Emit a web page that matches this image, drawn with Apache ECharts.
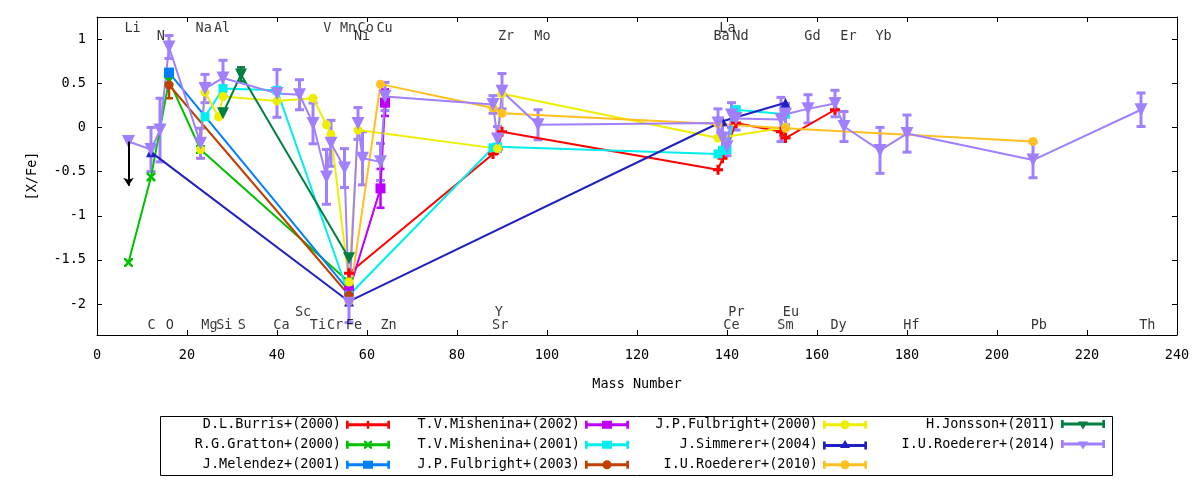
<!DOCTYPE html>
<html><head><meta charset="utf-8">
<script src="https://cdn.jsdelivr.net/npm/echarts@6/dist/echarts.min.js"></script>
<style>html,body{margin:0;padding:0;background:#fff}#c{width:1200px;height:480px}</style>
</head><body><div id="c"></div>
<script>
// ---------------- data ----------------
const seriesNames = ['D.L.Burris+(2000)','R.G.Gratton+(2000)','J.Melendez+(2001)','T.V.Mishenina+(2002)','T.V.Mishenina+(2001)','J.P.Fulbright+(2003)','J.P.Fulbright+(2000)','J.Simmerer+(2004)','I.U.Roederer+(2010)','H.Jonsson+(2011)','I.U.Roederer+(2014)'];
// each point: [mass number, [X/Fe], error]
const burris      = [[56,-1.65,0],[88,-0.30,0],[89,-0.25,0],[90,-0.05,0],[138,-0.48,0],[139,-0.35,0],[142,0.05,0],[152,-0.05,0],[153,-0.12,0],[164,0.20,0]];
const gratton     = [[7,-1.53,0],[12,-0.56,0],[16,0.53,0],[23,-0.25,0],[56,-1.75,0]];
const melendez    = [[16,0.62,0.04],[56,-1.85,0]];
const mishenina02 = [[56,-1.85,0],[63,-0.69,0.22],[64,0.28,0.15]];
const mishenina01 = [[24,0.12,0],[28,0.44,0],[40,0.42,0],[56,-1.90,0],[88,-0.23,0],[89,-0.22,0],[138,-0.30,0],[139,-0.26,0],[140,-0.25,0],[142,0.20,0],[153,0.15,0]];
const fulbright03 = [[16,0.48,0.15],[56,-1.90,0]];
const fulbright00 = [[23,-0.25,0],[24,0.40,0],[27,0.12,0],[28,0.35,0],[40,0.30,0],[48,0.33,0],[51,0.03,0],[52,-0.08,0],[56,-1.75,0],[58,-0.03,0],[89,-0.24,0],[90,0.38,0],[138,-0.12,0],[153,0.00,0]];
const simmerer    = [[12,-0.28,0],[56,-1.97,0],[139,0.07,0],[153,0.28,0]];
const roederer10  = [[56,-1.97,0],[63,0.49,0],[88,0.22,0],[90,0.16,0],[138,0.04,0],[153,-0.01,0],[208,-0.16,0]];
const jonsson     = [[28,0.16,0],[32,0.60,0.08],[56,-1.48,0]];
const roederer14  = [[7,-0.16,0],[12,-0.25,0.25],[14,-0.03,0.36],[16,0.91,0.13],[23,-0.18,0.17],[24,0.44,0.16],[28,0.56,0.20],[40,0.385,0.27],[45,0.37,0.17],[48,0.045,0.23],[51,-0.56,0.31],[52,-0.18,0.26],[55,-0.46,0.22],[56,-1.99,0.22],[58,0.045,0.18],[59,-0.35,0.30],[63,-0.39,0.21],[64,0.35,0.16],[88,0.26,0.10],[89,-0.13,0.14],[90,0.41,0.20],[98,0.03,0.17],[138,0.05,0.16],[139,-0.12,0.15],[140,-0.22,0.10],[141,0.14,0.14],[142,0.10,0.13],[152,0.09,0.25],[153,0.15,0.12],[158,0.21,0.16],[164,0.27,0.15],[166,0.01,0.17],[174,-0.26,0.26],[180,-0.07,0.21],[208,-0.37,0.20],[232,0.20,0.19]];
// Li upper limit of Roederer 2014: [mass, from, to]
const liLimit = [7, -0.16, -0.66];

// element labels
const elemNames = ['Li','N','Na','Al','V','Mn','Ni','Co','Cu','Zr','Mo','La','Ba','Nd','Gd','Er','Yb','C','O','Mg','Si','S','Ca','Sc','Ti','Cr','Fe','Zn','Y','Sr','Pr','Ce','Eu','Sm','Dy','Hf','Pb','Th'];
const elemPos   = [7.9,14.2,23.7,27.8,51.2,55.8,58.9,59.7,63.9,90.9,99.0,140.1,138.8,143.0,159.0,167.0,174.8,12.1,16.2,25.0,28.3,32.2,41.0,45.8,49.1,52.9,57.1,64.8,89.3,89.6,142.1,141.0,154.2,153.0,164.8,181.0,209.3,233.4];
const elemRow   = [0,1,0,0,0,0,1,0,0,1,1,0,1,1,1,1,1,3,3,3,3,3,3,2,3,3,3,3,2,3,2,3,2,3,3,3,3,3];

const xTicks = {min:0, max:240, interval:20};
const yTicks = [-2,-1.5,-1,-0.5,0,0.5,1];

// ---------------- styling ----------------
const FONT = 'DejaVu Sans Mono';
const FS = 13.5;
const rowLevels = [1.125, 1.025, -2.095, -2.24];
const datasets = [burris,gratton,melendez,mishenina02,mishenina01,fulbright03,fulbright00,simmerer,roederer10,jonsson,roederer14];
const colors = ['#ff0000','#00c000','#0080ff','#c000ff','#00eeee','#c04000','#eeee00','#2020c0','#ffc020','#008040','#a080ff'];
const PLUS = 'path://M3.5 0H6.5V3.5H10V6.5H6.5V10H3.5V6.5H0V3.5H3.5Z';
const CROSS = 'path://M0 0L2 0L10 8L10 10L8 10L0 2Z M10 0L10 2L2 10L0 10L0 8L8 0Z';
const markers = [
  {sym:PLUS, size:10, rot:0, leg:'plus'},
  {sym:CROSS, size:9, rot:0, leg:'cross'},
  {sym:'rect', size:10, rot:0, leg:'square'},
  {sym:'rect', size:10, rot:0, leg:'square'},
  {sym:'rect', size:9, rot:0, leg:'square'},
  {sym:'circle', size:9, rot:0, leg:'circle'},
  {sym:'circle', size:9, rot:0, leg:'circle'},
  {sym:'triangle', size:10, rot:0, leg:'tri'},
  {sym:'circle', size:9, rot:0, leg:'circle'},
  {sym:'triangle', size:12, rot:180, leg:'tridown'},
  {sym:'triangle', size:13, rot:180, leg:'tridown'}
];
function legendIcon(marker){
  const bar = 'M0 4H44V7H0Z';
  const caps = 'M0 1.5H2.7V9.5H0Z M41.3 1.5H44V9.5H41.3Z';
  const m = {
    plus:'M20.8 1.5H23.2V9.5H20.8Z',
    cross:'M18 1.5L19.7 1.5L26 7.8L26 9.5L24.3 9.5L18 3.2Z M26 1.5L26 3.2L19.7 9.5L18 9.5L18 7.8L24.3 1.5Z',
    square:'M17 1.5H27V9.5H17Z',
    circle:'M26.5 5.5A4.5 4.5 0 1 1 17.5 5.5A4.5 4.5 0 1 1 26.5 5.5Z',
    tri:'M22 0L27 8L17 8Z',
    tridown:'M17 3L27 3L22 11Z'
  }[marker];
  return 'path://' + bar + ' ' + caps + ' ' + m;
}

function errSeries(name, data, color, lw, capW){
  return {
    type:'custom', name:name, silent:true, animation:false,
    itemStyle:{color:color},
    data: data.filter(d => d[2] > 0),
    encode:{x:0, y:1},
    renderItem: function(params, api){
      const x = api.value(0), y = api.value(1), e = api.value(2);
      const t = api.coord([x, y + e]), b = api.coord([x, y - e]);
      const hw = capW / 2;
      const st = {stroke:color, lineWidth:lw, fill:null};
      return {type:'group', children:[
        {type:'line', shape:{x1:t[0], y1:t[1], x2:b[0], y2:b[1]}, style:st},
        {type:'line', shape:{x1:t[0]-hw, y1:t[1], x2:t[0]+hw, y2:t[1]}, style:st},
        {type:'line', shape:{x1:b[0]-hw, y1:b[1], x2:b[0]+hw, y2:b[1]}, style:st}
      ]};
    }
  };
}

const series = [];
series.push({
  type:'scatter', name:'labels', silent:true, animation:false,
  symbolSize:1, itemStyle:{color:'rgba(0,0,0,0)'},
  data: elemNames.map((n,i) => ({name:n, value:[elemPos[i], rowLevels[elemRow[i]]]})),
  label:{show:true, position:'inside', formatter:'{b}', color:'#000', fontFamily:FONT, fontSize:FS}
});
datasets.forEach((d, i) => {
  const mk = markers[i];
  const line = {
    type:'line', name:seriesNames[i], silent:true, animation:false,
    data: d.map(p => [p[0], p[1]]),
    symbol: mk.sym, symbolSize: mk.size, symbolRotate: mk.rot, showAllSymbol:true,
    lineStyle:{color:colors[i], width:2},
    itemStyle:{color:colors[i], borderWidth:0},
    emphasis:{disabled:true}
  };
  if (i === 10) {
    line.markLine = {
      silent:true, animation:false, symbol:['none','arrow'], symbolSize:8,
      lineStyle:{color:'#000', width:2, type:'solid'}, label:{show:false},
      emphasis:{disabled:true},
      data:[[{coord:[liLimit[0], liLimit[1]]},{coord:[liLimit[0], liLimit[2]]}]]
    };
  }
  series.push(line);
  series.push(errSeries(seriesNames[i], d, colors[i], i === 10 ? 3 : 2.5, i === 10 ? 9 : 8));
});

// legend: column-major, 3 rows
const legRight = [810, 571, 333, 95];
const legRowCenter = [424.5, 444.5, 464.5];
const legends = seriesNames.map((n, i) => {
  const col = Math.floor(i / 3), row = i % 3;
  return {
    data:[{name:n, icon:legendIcon(markers[i].leg), itemStyle:{borderWidth:0}}],
    right: legRight[col], top: legRowCenter[row] - FS/2,
    orient:'horizontal', align:'right', itemWidth:44, itemHeight:11, padding:0,
    symbolKeepAspect:true, selectedMode:false, itemStyle:{borderWidth:0},
    textStyle:{fontFamily:FONT, fontSize:FS, color:'#000'}
  };
});

const axisText = {fontFamily:FONT, fontSize:FS, color:'#000'};
const option = {
  backgroundColor:'#fff',
  animation:false,
  textStyle:{fontFamily:FONT},
  grid:{left:97, right:23, top:17, bottom:145, containLabel:false},
  legend: legends,
  xAxis:[
    {type:'value', min:xTicks.min, max:xTicks.max, interval:xTicks.interval, position:'bottom',
     name:'Mass Number', nameLocation:'middle', nameGap:42, nameTextStyle:axisText,
     axisLine:{show:true, onZero:false, lineStyle:{color:'#000', width:1}},
     axisTick:{show:true, inside:true, length:5, lineStyle:{color:'#000'}},
     axisLabel:Object.assign({margin:13}, axisText), splitLine:{show:false}},
    {type:'value', min:xTicks.min, max:xTicks.max, interval:xTicks.interval, position:'top',
     axisLine:{show:true, onZero:false, lineStyle:{color:'#000', width:1}},
     axisTick:{show:true, inside:true, length:5, lineStyle:{color:'#000'}},
     axisLabel:{show:false}, splitLine:{show:false}}
  ],
  yAxis:[
    {type:'value', min:-2.35, max:1.25, position:'left',
     name:'[X/Fe]', nameLocation:'middle', nameGap:58, nameRotate:90, nameTextStyle:axisText,
     axisLine:{show:true, onZero:false, lineStyle:{color:'#000', width:1}},
     axisTick:{show:true, inside:true, length:5, customValues:yTicks, lineStyle:{color:'#000'}},
     axisLabel:Object.assign({margin:11, customValues:yTicks}, axisText), splitLine:{show:false}},
    {type:'value', min:-2.35, max:1.25, position:'right',
     axisLine:{show:true, onZero:false, lineStyle:{color:'#000', width:1}},
     axisTick:{show:true, inside:true, length:5, customValues:yTicks, lineStyle:{color:'#000'}},
     axisLabel:{show:false}, splitLine:{show:false}}
  ],
  graphic:[{type:'rect', silent:true, shape:{x:160.5, y:416.5, width:952, height:59}, style:{fill:'none', stroke:'#000', lineWidth:1}}],
  series: series
};
const chart = echarts.init(document.getElementById('c'), null, {renderer:'canvas'});
chart.setOption(option);
</script></body></html>
